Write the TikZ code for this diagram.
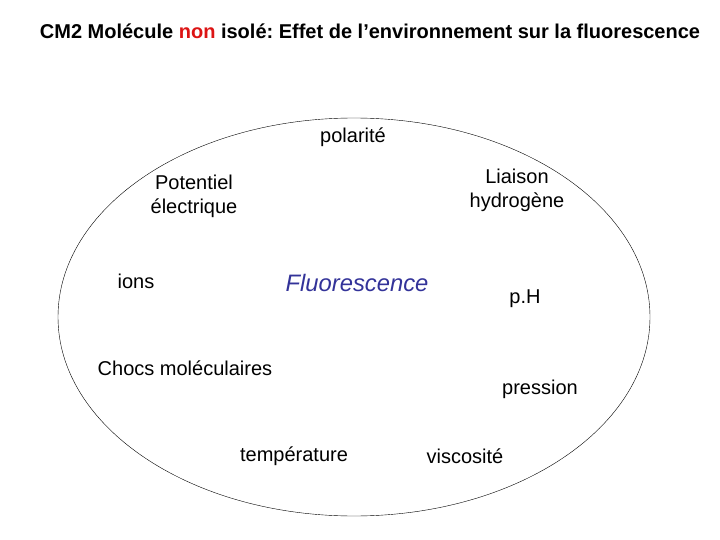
\documentclass[tikz,border=0pt]{standalone}
\usepackage{fontspec}
\setmainfont{Liberation Sans}
\usetikzlibrary{positioning}
\definecolor{fluoBlue}{RGB}{51, 51, 153}
\definecolor{titleRed}{RGB}{220, 20, 20}

\begin{document}
\frenchspacing
\begin{tikzpicture}[x=1pt, y=-1pt,
    label/.style={font=\fontsize{20}{24}\selectfont, align=center, inner sep=0pt},
    centre/.style={font=\fontsize{23.8}{28}\selectfont\itshape, text=fluoBlue, inner sep=0pt}]
  \useasboundingbox (0,0) rectangle (720,540);
  % Title
  \node[font=\fontsize{20}{24}\selectfont\bfseries, inner sep=0pt] (title) at (370, 31)
    {CM2 Molécule \textcolor{titleRed}{non} isolé: Effet de l’environnement sur la fluorescence};

  % Environment ellipse
  \draw[thin] (354, 317) ellipse [x radius=296, y radius=199];

  % Centre
  \node[centre] (fluo) at (357, 283) {Fluorescence};

  % Parameters around
  \node[label] (polar) at (353, 137) {polarité};
  \node[label] (potent) at (194, 196) {Potentiel\\électrique};
  \node[label] (liaison) at (517, 190) {Liaison\\hydrogène};
  \node[label] (ions) at (136, 281) {ions};
  \node[label] (ph) at (525, 299) {p.H};
  \node[label] (chocs) at (185, 368) {Chocs moléculaires};
  \node[label] (press) at (540, 389) {pression};
  \node[label] (temp) at (294, 456) {température};
  \node[label] (visco) at (465, 456) {viscosité};
\end{tikzpicture}
\end{document}
